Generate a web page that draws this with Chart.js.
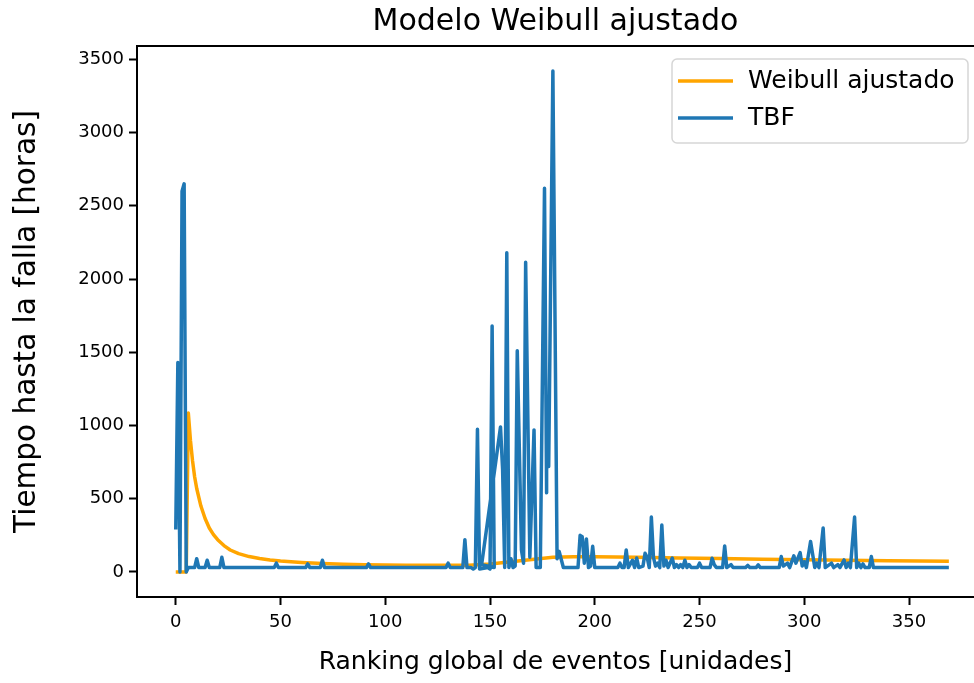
<!DOCTYPE html>
<html lang="es">
<head>
<meta charset="UTF-8">
<title>Modelo Weibull ajustado</title>
<script src="https://cdn.jsdelivr.net/npm/chart.js"></script>
<style>
  html, body { margin: 0; padding: 0; background: #fff; overflow: hidden; }
  #wrap { width: 974px; height: 683px; }
</style>
</head>
<body>
<div id="wrap"><canvas id="weibullChart" width="974" height="683"></canvas></div>
<script>
// TBF por ranking global de evento (horas)
const tbfRanking = [
  0, 1, 2, 3, 4, 5, 6, 9, 10, 11, 14, 15, 16, 21, 22, 23, 47, 48, 49, 62, 63, 64, 69, 70, 71,
  91, 92, 93, 129, 130, 131, 137, 138, 139, 141, 142, 143, 144, 145, 149, 150, 151, 152,
  146, 155, 156, 157, 158, 159, 160, 161, 162, 163, 165, 166, 167, 169, 171, 172,
  174, 176, 177, 177, 178, 180, 182, 183, 185, 192, 193, 194, 195, 196, 197, 198, 199, 200,
  211, 212, 213, 214, 215, 216, 218, 219, 220, 221, 223, 224, 225, 226, 227, 228, 229, 230,
  231, 232, 233, 234, 235, 237, 238, 239, 240, 241, 242, 243, 244, 245, 246, 249, 250, 251,
  255, 256, 257, 258, 261, 262, 263, 265, 266, 272, 273, 274, 277, 278, 279, 288, 289, 290,
  292, 293, 295, 296, 298, 299, 300, 301, 303, 305, 306, 307, 309, 310, 313, 314, 316, 317,
  319, 320, 321, 322, 324, 325, 326, 327, 328, 329, 331, 332, 333, 369
];
const tbfHoras = [
  290, 1430, 0, 2600, 2650, 0, 30, 30, 90, 30, 30, 80, 30, 30, 100, 30, 30, 60, 30, 30, 55, 30, 30, 80, 30,
  30, 55, 30, 30, 60, 30, 30, 220, 30, 30, 20, 30, 975, 20, 30, 20, 1680, 30,
  50, 990, 700, 30, 2180, 30, 90, 30, 40, 1510, 150, 60, 2115, 100, 970, 30,
  30, 2620, 540, 860, 720, 3420, 90, 140, 30, 30, 250, 240, 60, 225, 30, 40, 175, 30,
  30, 60, 30, 30, 150, 30, 80, 30, 95, 30, 40, 128, 100, 30, 375, 100, 40, 60,
  30, 320, 40, 80, 30, 95, 30, 50, 30, 50, 30, 80, 30, 50, 30, 30, 60, 30,
  30, 94, 50, 30, 30, 178, 30, 50, 30, 30, 45, 30, 30, 48, 30, 30, 105, 40,
  60, 30, 110, 60, 132, 40, 70, 30, 208, 30, 60, 30, 300, 30, 60, 30, 50, 30,
  82, 30, 60, 30, 375, 30, 60, 30, 55, 30, 30, 105, 30, 30
];

// Curva Weibull ajustada
const weibullRanking = [
  0, 5, 6, 7, 8, 9, 10, 12, 14, 16, 18, 20, 23, 26, 30, 35, 40, 45, 50, 60, 70, 80, 90, 100,
  110, 120, 130, 140, 150, 160, 170, 180, 190, 200, 220, 240, 260, 280, 300, 320, 340, 369
];
const weibullHoras = [
  0, 0, 1085, 900, 760, 650, 570, 450, 365, 300, 255, 220, 180, 150, 125, 105, 92, 82, 75, 65, 58, 53, 50, 48,
  46, 45, 45, 46, 55, 70, 85, 100, 103, 103, 100, 96, 92, 87, 83, 80, 77, 73
];

const xTicks = [0, 50, 100, 150, 200, 250, 300, 350];
const yTicks = [0, 500, 1000, 1500, 2000, 2500, 3000, 3500];

const FONT = "'DejaVu Sans', sans-serif";

const toPoints = (xs, ys) => xs.map((x, i) => ({ x: x, y: ys[i] }));

// top spine (the right one falls past the edge of the figure)
const framePlugin = {
  id: 'frame',
  afterDatasetsDraw(chart) {
    const { ctx, chartArea: a } = chart;
    ctx.save();
    ctx.strokeStyle = '#000';
    ctx.lineWidth = 2;
    ctx.beginPath();
    ctx.moveTo(a.left, a.top);
    ctx.lineTo(chart.width, a.top);
    ctx.stroke();
    ctx.restore();
  }
};

// legend box in the upper right corner of the plot
const legendBox = {
  id: 'legendBox',
  afterDraw(chart) {
    const { ctx, chartArea: a } = chart;
    const w = 296, h = 84;
    const x = a.right - 302, y = a.top + 13;
    ctx.save();
    ctx.beginPath();
    ctx.roundRect(x, y, w, h, 5);
    ctx.fillStyle = 'rgba(255,255,255,0.8)';
    ctx.fill();
    ctx.strokeStyle = '#d6d6d6';
    ctx.lineWidth = 1.5;
    ctx.stroke();
    ctx.font = '25px ' + FONT;
    ctx.textBaseline = 'middle';
    chart.data.datasets.forEach((ds, i) => {
      const ly = y + 22 + i * 37;
      ctx.strokeStyle = ds.borderColor;
      ctx.lineWidth = ds.borderWidth;
      ctx.beginPath();
      ctx.moveTo(x + 6, ly);
      ctx.lineTo(x + 61, ly);
      ctx.stroke();
      ctx.fillStyle = '#000';
      ctx.fillText(ds.label, x + 76, ly);
    });
    ctx.restore();
  }
};

const ctx = document.getElementById('weibullChart').getContext('2d');
new Chart(ctx, {
  type: 'line',
  data: {
    datasets: [
      {
        label: 'Weibull ajustado',
        data: toPoints(weibullRanking, weibullHoras),
        borderColor: '#ffa500',
        borderWidth: 3.5,
        pointRadius: 0,
        tension: 0,
        borderJoinStyle: 'round',
        order: 2
      },
      {
        label: 'TBF',
        data: toPoints(tbfRanking, tbfHoras),
        borderColor: '#1f77b4',
        borderWidth: 3.5,
        pointRadius: 0,
        tension: 0,
        borderJoinStyle: 'round',
        order: 1
      }
    ]
  },
  options: {
    responsive: false,
    animation: false,
    events: [],
    layout: { padding: { right: 0 } },
    plugins: {
      legend: { display: false },
      tooltip: { enabled: false },
      title: {
        display: true,
        text: 'Modelo Weibull ajustado',
        fullSize: false,
        color: '#000',
        font: { family: FONT, size: 30, weight: 'normal', lineHeight: 1.2 },
        padding: { top: 4, bottom: 6 }
      }
    },
    scales: {
      x: {
        type: 'linear',
        min: -18.5,
        max: 381,
        afterFit(s) { s.height = 86; },
        afterBuildTicks(s) { s.ticks = xTicks.map(v => ({ value: v })); },
        ticks: {
          color: '#000',
          autoSkip: false,
          maxRotation: 0,
          padding: 7,
          font: { family: FONT, size: 18 },
          callback: v => String(v)
        },
        grid: { drawOnChartArea: false, drawTicks: true, tickLength: 8, tickWidth: 2, color: '#000' },
        border: { display: true, color: '#000', width: 2 },
        title: {
          display: true,
          text: 'Ranking global de eventos [unidades]',
          color: '#000',
          font: { family: FONT, size: 25, lineHeight: 1.2 },
          padding: { top: 0, bottom: 6 }
        }
      },
      y: {
        type: 'linear',
        min: -171,
        max: 3591,
        afterFit(s) { s.width = 137; },
        afterBuildTicks(s) { s.ticks = yTicks.map(v => ({ value: v })); },
        ticks: {
          color: '#000',
          autoSkip: false,
          padding: 5,
          font: { family: FONT, size: 18 },
          callback: v => String(v)
        },
        grid: { drawOnChartArea: false, drawTicks: true, tickLength: 8, tickWidth: 2, color: '#000' },
        border: { display: true, color: '#000', width: 2 },
        title: {
          display: true,
          text: 'Tiempo hasta la falla [horas]',
          color: '#000',
          font: { family: FONT, size: 29.5, lineHeight: 1.2 },
          padding: { top: 10, bottom: 0 }
        }
      }
    }
  },
  plugins: [framePlugin, legendBox]
});
</script>
</body>
</html>
